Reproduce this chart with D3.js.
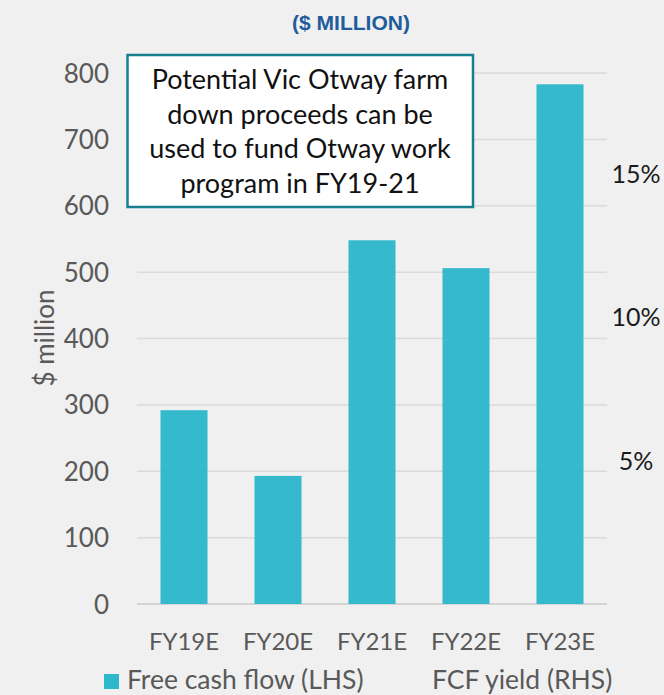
<!DOCTYPE html>
<html><head><meta charset="utf-8">
<script src="https://cdn.jsdelivr.net/npm/d3@7"></script>
<style>body{margin:0;background:#f0f0f0;} svg{display:block;}</style>
</head><body>
<svg id="c" width="664" height="695"></svg>
<script>
const categories = ["FY19E","FY20E","FY21E","FY22E","FY23E"];
const fcfValues = [292, 193, 548, 506, 783];
const leftTicks = [0,100,200,300,400,500,600,700,800];
const rightTicks = [0.05,0.10,0.15];
const annotationLines = ["Potential Vic Otway farm","down proceeds can be","used to fund Otway work","program in FY19-21"];
const legendItems = ["Free cash flow (LHS)","FCF yield (RHS)"];

const svg = d3.select("#c");
const font = "Lato, 'Open Sans', sans-serif";
const m = {left:137, right:607, top:73, bottom:604};

const x = d3.scaleBand().domain(categories).range([m.left, m.right]).paddingInner(0.5).paddingOuter(0.25);
const y = d3.scaleLinear().domain([0,800]).range([m.bottom, m.top]);
const y2 = d3.scaleLinear().domain([0,0.185]).range([m.bottom, m.top]);

// subtitle
svg.append("text").attr("x",351).attr("y",30).attr("text-anchor","middle")
  .attr("font-family","'Liberation Sans', Arial, sans-serif").attr("font-weight","bold")
  .attr("font-size",21).attr("fill","#1f5c9c").text("($ MILLION)");

// gridlines
svg.append("g").selectAll("line").data(leftTicks).join("line")
  .attr("x1",m.left).attr("x2",m.right)
  .attr("y1",d=>y(d)).attr("y2",d=>y(d))
  .attr("stroke",d=>d===0?"#d4d4d4":"#dadada").attr("stroke-width",d=>d===0?2:1.5);

// bars
svg.append("g").selectAll("rect").data(fcfValues).join("rect")
  .attr("x",(d,i)=>x(categories[i])).attr("width",x.bandwidth())
  .attr("y",d=>y(d)).attr("height",d=>y(0)-y(d))
  .attr("fill","#2db7cb").attr("fill-opacity",0.96);

// left axis
const la = svg.append("g").attr("transform",`translate(${m.left-28},0)`)
  .call(d3.axisLeft(y).tickValues(leftTicks).tickSize(0).tickPadding(0));
la.select(".domain").remove();
la.selectAll("text").attr("font-family",font).attr("font-size",26).attr("fill","#595959").attr("dy","0.35em");

// right axis
const ra = svg.append("g").attr("transform",`translate(636,0)`)
  .call(d3.axisRight(y2).tickValues(rightTicks).tickFormat(d3.format(".0%")).tickSize(0).tickPadding(0));
ra.select(".domain").remove();
ra.selectAll("text").attr("font-family",font).attr("font-size",25).attr("fill","#1a1a1a")
  .attr("text-anchor","middle").attr("dy","0.35em");

// x axis
const xa = svg.append("g").attr("transform",`translate(0,${m.bottom})`)
  .call(d3.axisBottom(x).tickSize(0).tickPadding(29));
xa.select(".domain").remove();
xa.selectAll("text").attr("font-family",font).attr("font-size",24).attr("fill","#595959");

// y label
svg.append("text").attr("transform","translate(54,338) rotate(-90)").attr("text-anchor","middle")
  .attr("font-family",font).attr("font-size",26).attr("fill","#595959").text("$ million");

// annotation box
svg.append("rect").attr("x",127.5).attr("y",55).attr("width",345.5).attr("height",152)
  .attr("fill","#ffffff").attr("stroke","#17808e").attr("stroke-width",2.5);
svg.append("g").selectAll("text").data(annotationLines).join("text")
  .attr("x",300).attr("y",(d,i)=>89+i*34.6).attr("text-anchor","middle")
  .attr("font-family",font).attr("font-size",27).attr("fill","#111").text(d=>d);

// legend
svg.append("rect").attr("x",104).attr("y",674).attr("width",15).attr("height",15).attr("fill","#2db7cb");
svg.append("text").attr("x",127).attr("y",689).attr("font-family",font).attr("font-size",26.5)
  .attr("fill","#595959").text(legendItems[0]);
svg.append("text").attr("x",432).attr("y",689).attr("font-family",font).attr("font-size",26.5)
  .attr("fill","#595959").text(legendItems[1]);
</script>
</body></html>
